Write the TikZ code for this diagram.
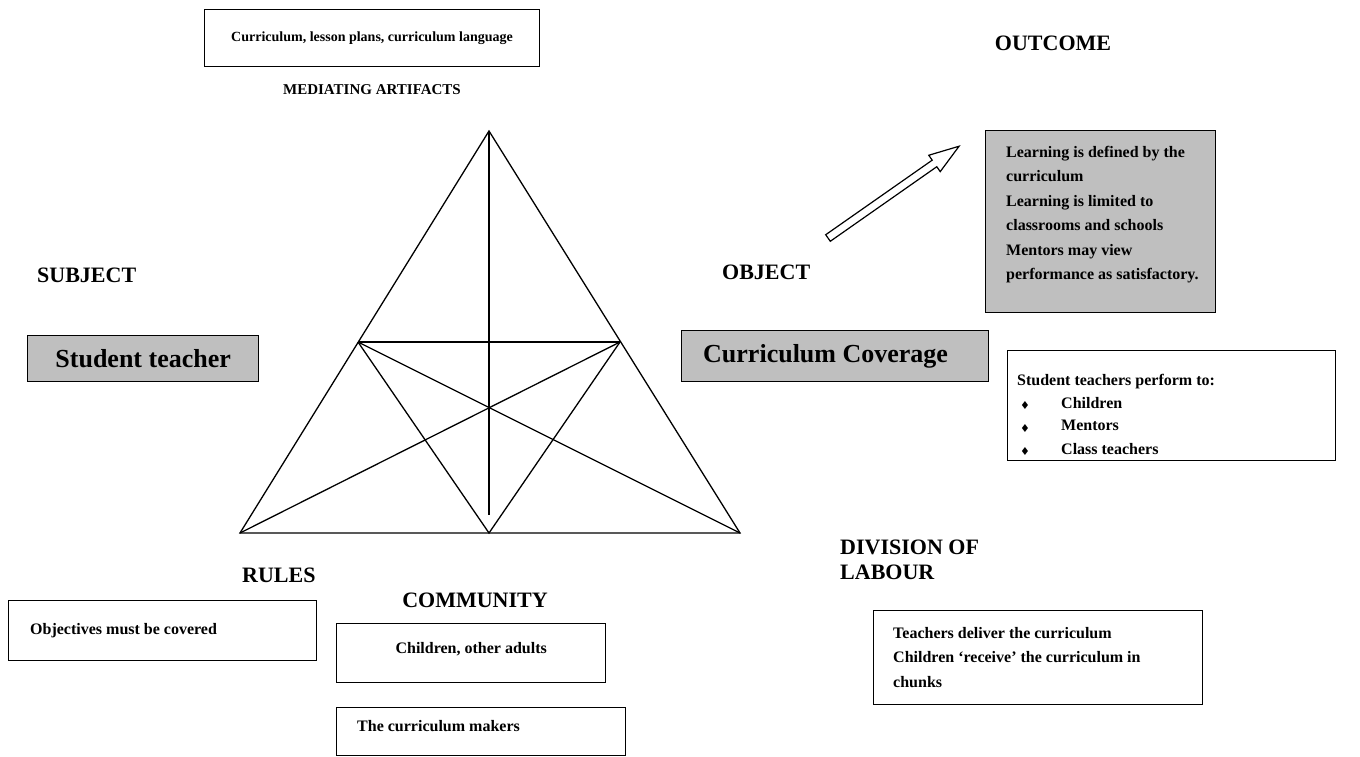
\documentclass[tikz,border=0pt]{standalone}
\usepackage{fontspec}
\setmainfont{Liberation Serif}
\newfontfamily\symfont{DejaVu Sans}
\usetikzlibrary{positioning}

\begin{document}
\begin{tikzpicture}[x=1pt,y=-1pt,line join=miter,
  box/.style={draw,line width=1.4pt,inner sep=0pt},
  gbox/.style={box,fill=gray!50},
  head/.style={font=\fontsize{22}{25}\selectfont\bfseries,inner sep=0pt},
  big/.style={font=\fontsize{26}{30}\selectfont\bfseries,inner sep=0pt},
  small/.style={font=\fontsize{16}{24.5}\selectfont\bfseries,inner sep=0pt,align=left,anchor=north west},
  edge/.style={line width=1.3pt}]
\useasboundingbox (0,0) rectangle (1360,756);

\coordinate (apex) at (489,131);
\coordinate (bl) at (240,533);
\coordinate (br) at (740,533);
\coordinate (bm) at (489,533);
\coordinate (ml) at (358,342);
\coordinate (mr) at (620,342);
\coordinate (vend) at (489,515);

\draw[edge] (apex) -- (bl) -- (br) -- cycle;
\draw[edge] (ml) -- (mr);
\draw[edge] (apex) -- (vend);
\draw[edge] (ml) -- (br);
\draw[edge] (mr) -- (bl);
\draw[edge] (ml) -- (bm) -- (mr);

\node[box,minimum width=335,minimum height=57,font=\fontsize{14}{17}\selectfont\bfseries] (artbox) at (372,38) {Curriculum, lesson plans, curriculum language};
\node[font=\fontsize{15}{18}\selectfont\bfseries] (artifacts) at (372,90) {MEDIATING ARTIFACTS};
\node[head] (outcome) at (1053,43) {OUTCOME};
\node[head,anchor=west] (subject) at (37,275) {SUBJECT};
\node[head,anchor=west] (object) at (722,272) {OBJECT};

\node[gbox,minimum width=231,minimum height=46,anchor=north west] (student) at (27,335) {};
\node[big] (studenttxt) at (student) {Student teacher};
\node[gbox,minimum width=307,minimum height=51,anchor=north west] (coverage) at (681,330) {};
\node[big,anchor=west] (coveragetxt) at ([xshift=22]coverage.west) {Curriculum Coverage};

\node[gbox,minimum width=230,minimum height=182,anchor=north west] (outbox) at (985,130) {};
\node[small] (outtxt) at ([shift={(21,16)}]outbox.north west) {Learning is defined by the\\curriculum\\Learning is limited to\\classrooms and schools\\Mentors may view\\performance as satisfactory.};

\begin{scope}[shift={(828,238)},rotate=35]
\draw[line width=1.2pt,fill=white] (0,-4) -- (130,-4) -- (130,-10) -- (160,0) -- (130,10) -- (130,4) -- (0,4) -- cycle;
\end{scope}

\node[box,minimum width=328,minimum height=110,anchor=north west] (perform) at (1007,350) {};
\node[small] (performtxt) at ([shift={(10,24)}]perform.north west) {Student teachers perform to:};
\foreach \name [count=\i] in {Children,Mentors,Class teachers}
  \node[small] (item\i) at ([shift={(54,24+23*\i)}]perform.north west) {\name};
\foreach \i in {1,2,3}
  \node[inner sep=0pt,font=\symfont\fontsize{11}{12}\selectfont] (dot\i) at ([xshift=-36,yshift=-8.5]item\i.north west) {♦};

\node[head,anchor=west,align=left] (division) at (840,560) {DIVISION OF\\LABOUR};
\node[head,anchor=west] (rules) at (242,575) {RULES};
\node[head] (community) at (475,600) {COMMUNITY};

\node[box,minimum width=308,minimum height=60,anchor=north west] (objbox) at (8,600) {};
\node[small,anchor=west] (objtxt) at ([xshift=22]objbox.west) {Objectives must be covered};
\node[box,minimum width=269,minimum height=59,anchor=north west] (childbox) at (336,623) {};
\node[small,anchor=center] (childtxt) at ([yshift=4]childbox.center) {Children, other adults};
\node[box,minimum width=289,minimum height=48,anchor=north west] (makerbox) at (336,707) {};
\node[small] (makertxt) at ([shift={(21,13)}]makerbox.north west) {The curriculum makers};

\node[box,minimum width=329,minimum height=94,anchor=north west] (labourbox) at (873,610) {};
\node[small] (labourtxt) at ([shift={(20,17)}]labourbox.north west) {Teachers deliver the curriculum\\Children ‘receive’ the curriculum in\\chunks};
\end{tikzpicture}
\end{document}
